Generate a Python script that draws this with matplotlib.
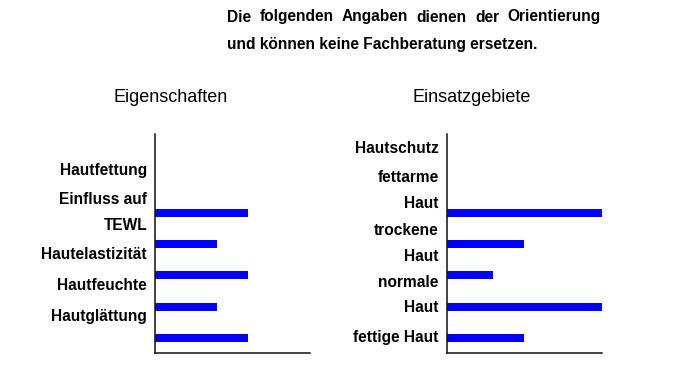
import matplotlib
matplotlib.use("Agg")
import matplotlib.pyplot as plt
import matplotlib.transforms as mtransforms

plt.rcParams['font.family'] = ['Liberation Sans', 'DejaVu Sans']

# data (bars listed bottom to top)
eig_values = [6, 4, 6, 4, 6]
ein_values = [5, 10, 3, 5, 10]
# label lines with their (data) heights, as placed in the original
eig_lines = ["Hautfettung", "Einfluss auf", "TEWL", "Hautelastizität",
             "Hautfeuchte", "Hautglättung"]
eig_line_y = [5.35, 4.44, 3.58, 2.68, 1.69, 0.68]
ein_lines = ["Hautschutz", "fettarme", "Haut", "trockene", "Haut",
             "normale", "Haut", "fettige Haut"]
ein_line_y = [6.07, 5.14, 4.31, 3.45, 2.59, 1.76, 0.96, 0.03]
titles = ["Eigenschaften", "Einsatzgebiete"]
header = ["Die folgenden Angaben dienen der Orientierung",
          "und können keine Fachberatung ersetzen."]

W, H = 692, 386
fig = plt.figure(figsize=(W / 100, H / 100), dpi=100)


def px_axes(x0, y0, x1, y1):
    return fig.add_axes([x0 / W, 1 - y1 / H, (x1 - x0) / W, (y1 - y0) / H])


ax1 = px_axes(155, 134, 310, 353)
ax2 = px_axes(446.7, 134, 601.7, 353)

for ax, vals, lines, ly, title, tx in [
        (ax1, eig_values, eig_lines, eig_line_y, titles[0], 171),
        (ax2, ein_values, ein_lines, ein_line_y, titles[1], 472)]:
    ax.barh(range(len(vals)), vals, height=0.26, color='#0000ff')
    ax.set_xlim(0, 10)
    ax.set_ylim(-0.48, 6.52)
    for s in ['top', 'right']:
        ax.spines[s].set_visible(False)
    for s in ['left', 'bottom']:
        ax.spines[s].set_linewidth(1.1)
        ax.spines[s].set_color('#111111')
    ax.set_xticks([])
    ax.set_yticks([])
    trans = mtransforms.blended_transform_factory(ax.transAxes, ax.transData)
    off = mtransforms.offset_copy(trans, fig=fig, x=-8, y=0, units='dots')
    for t, y in zip(lines, ly):
        ax.text(0, y, t, transform=off, ha='right', va='center',
                fontsize=11.2, fontweight='bold')
    fig.text(tx / W, 1 - 97 / H, title, ha='center', va='center', fontsize=13)

# header, first line justified between x=227 and x=601
fig.canvas.draw()
r = fig.canvas.get_renderer()
words = header[0].split()
objs = [fig.text(0, 1 - 17 / H, w, fontsize=11.2, fontweight='bold',
                 ha='left', va='center') for w in words]
widths = [o.get_window_extent(r).width for o in objs]
gap = (601 - 227 - sum(widths)) / (len(words) - 1)
x = 227
for o, w in zip(objs, widths):
    o.set_x(x / W)
    x += w + gap
fig.text(227 / W, 1 - 44 / H, header[1], fontsize=11.2, fontweight='bold',
         ha='left', va='center')

fig.savefig("out.png", dpi=100)
